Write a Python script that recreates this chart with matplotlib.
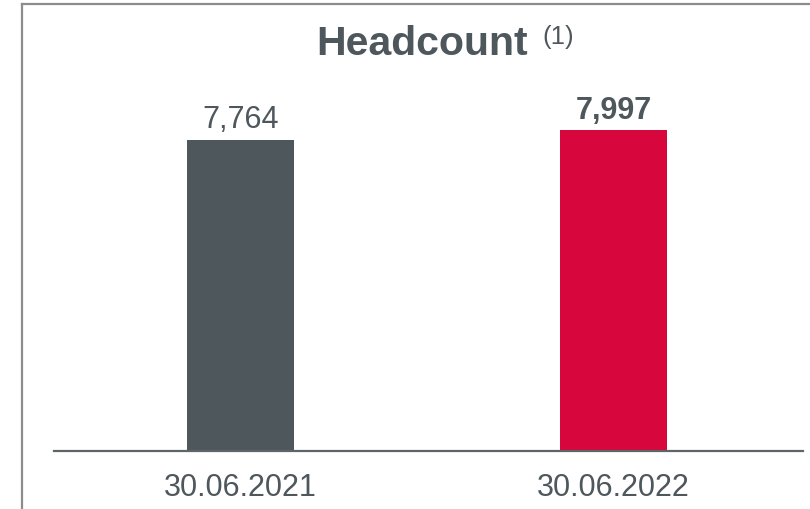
import matplotlib

matplotlib.use("Agg")
import matplotlib.pyplot as plt
from matplotlib.lines import Line2D

plt.rcParams["font.family"] = ["Liberation Sans", "DejaVu Sans"]

dates = ["30.06.2021", "30.06.2022"]
headcount = [7764, 7997]
bar_colors = ["#4d575c", "#d7063c"]
label_weights = ["normal", "bold"]

TEXT = "#4d575c"
W, H = 810, 510

fig = plt.figure(figsize=(W / 100, H / 100), dpi=100)
fig.patch.set_facecolor("white")

# frame: only top and left edges are visible
fig.add_artist(Line2D([21.5 / W, 1], [1 - 4.5 / H, 1 - 4.5 / H],
                      transform=fig.transFigure, color="#8c8c8c", lw=1.6))
fig.add_artist(Line2D([21.5 / W, 21.5 / W], [0, 1 - 4.5 / H],
                      transform=fig.transFigure, color="#8c8c8c", lw=1.6))

ax = fig.add_axes([54 / W, (H - 452) / H, 749 / W, 403 / H])
x = range(len(dates))
ax.bar(x, headcount, width=0.287, color=bar_colors, zorder=2)
ax.set_xlim(-0.5, 1.508)
ax.set_ylim(0, 10050)

for xi, v, wt in zip(x, headcount, label_weights):
    ax.annotate(f"{v:,}", (xi, v), xytext=(0, 9), textcoords="offset points",
                ha="center", va="baseline", fontsize=22, color=TEXT,
                fontweight=wt)

ax.set_xticks(list(x))
ax.set_xticklabels(dates, fontsize=22, color=TEXT)
ax.tick_params(axis="x", length=0, pad=15)
ax.set_yticks([])
for side in ("top", "left", "right"):
    ax.spines[side].set_visible(False)
ax.spines["bottom"].set_color("#5e6569")
ax.spines["bottom"].set_linewidth(1.6)
ax.spines["bottom"].set_zorder(3)

fig.text(422 / W, 1 - 55 / H, "Headcount", ha="center", va="baseline",
         fontsize=29.5, fontweight="bold", color=TEXT)
fig.text(542 / W, 1 - 25 / H, "(1)", ha="left", va="top",
         fontsize=18.5, color=TEXT)

fig.savefig("out.png", dpi=100, facecolor="white")
